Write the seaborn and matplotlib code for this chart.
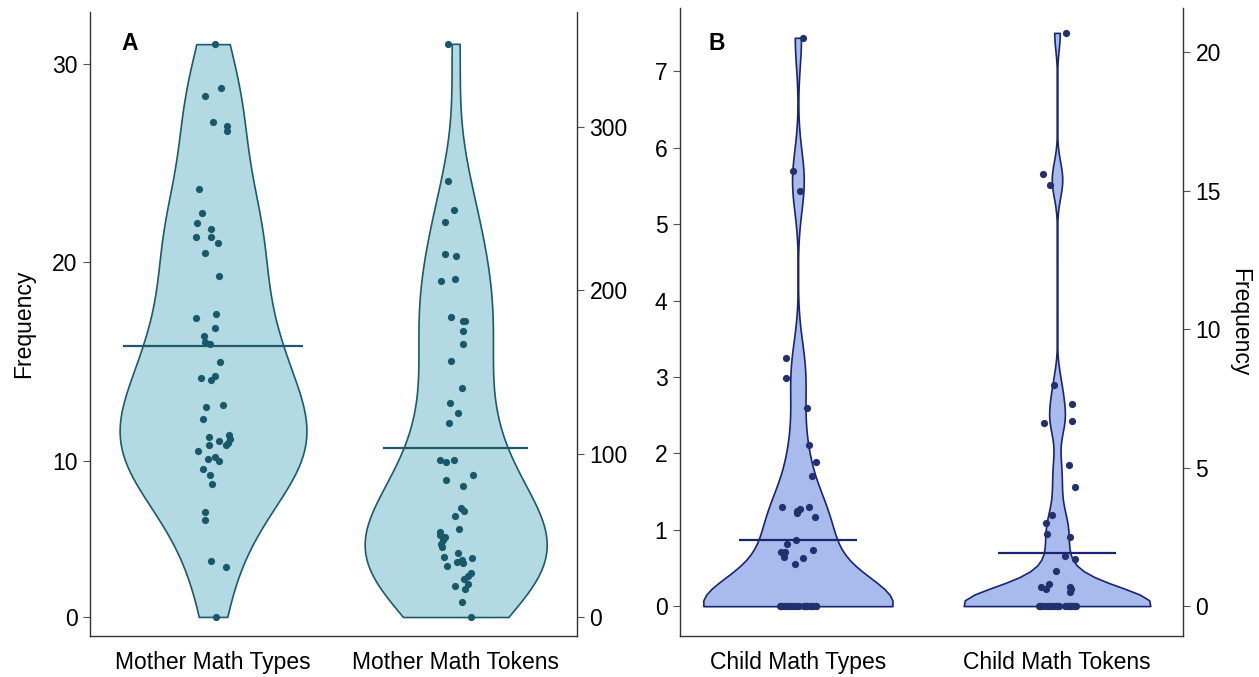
import numpy as np
import pandas as pd
import matplotlib
matplotlib.use("Agg")
import matplotlib.pyplot as plt
import seaborn as sns

# ---------------- data ----------------
categories_a = ["Mother Math Types", "Mother Math Tokens"]
categories_b = ["Child Math Types", "Child Math Tokens"]

mother_types = [31.0, 28.8, 28.4, 27.1, 26.9, 26.6, 23.7, 22.5, 22.0, 21.7,
                21.3, 21.3, 21.0, 20.5, 19.3, 17.4, 17.2, 16.7, 16.3, 15.9,
                16.0, 15.0, 14.1, 14.2, 14.3, 12.8, 12.7, 12.1, 11.2, 11.3,
                11.1, 11.0, 10.9, 10.8, 10.8, 10.5, 10.0, 10.2, 10.1, 9.5,
                9.1, 8.5, 6.7, 6.2, 3.6, 3.2, 0.0]

mother_tokens = [351, 267, 249, 242, 222, 221, 206, 207, 184, 181,
                 181, 175, 167, 157, 140, 131, 125, 119, 96, 96,
                 95, 87, 84, 80, 67, 65, 62, 54, 52, 50,
                 49, 47, 45, 43, 39, 37, 36, 35, 34, 33,
                 31, 27, 25, 23, 19, 20, 17, 9, 0]

child_types = [7.44, 5.70, 5.44, 3.25, 2.99, 2.60, 2.11, 1.89, 1.71, 1.27,
               1.30, 1.22, 1.17, 1.30, 1.25, 0.87, 0.81, 0.71, 0.71, 0.74,
               0.63, 0.64, 0.55,
               0, 0, 0, 0, 0, 0, 0, 0, 0, 0, 0, 0, 0, 0, 0,
               0, 0, 0, 0, 0, 0, 0, 0, 0, 0, 0, 0, 0, 0]

child_tokens = [20.7, 15.6, 15.2, 8.0, 7.3, 6.6, 6.7, 5.1, 4.3, 3.3,
                3.0, 2.6, 2.5, 1.7, 1.8, 1.25, 0.8, 0.7, 0.6, 0.7,
                0.6, 0.5,
                0, 0, 0, 0, 0, 0, 0, 0, 0, 0, 0, 0, 0, 0, 0,
                0, 0, 0, 0, 0, 0, 0, 0, 0, 0, 0, 0, 0, 0, 0]

mean_a = [15.8, 103.5]
mean_b = [0.87, 1.92]

ticks_a_left = [0, 10, 20, 30]
ticks_a_right = [0, 100, 200, 300]
ticks_b_left = [0, 1, 2, 3, 4, 5, 6, 7]
ticks_b_right = [0, 5, 10, 15, 20]

# ---------------- style ----------------
fill_a, edge_a, pt_a = "#B3DAE2", "#1D5A6C", "#19586A"
fill_b, edge_b, pt_b = "#A9BAEC", "#1A2570", "#23306F"
spine_col = "#333333"
FS = 16.5

sns.set_theme(style="ticks")
plt.rcParams["font.family"] = ["Liberation Sans", "DejaVu Sans"]
plt.rcParams["text.color"] = "black"
plt.rcParams["axes.labelcolor"] = "black"
plt.rcParams["xtick.color"] = "black"
plt.rcParams["ytick.color"] = "black"

# left axis of panel A has a compressed 0-10 segment in the reference
R = 0.786


def fwd(v):
    v = np.asarray(v, dtype=float)
    return np.where(v < 10, 10 - (10 - v) * R, v)


def inv(p):
    p = np.asarray(p, dtype=float)
    return np.where(p < 10, 10 - (10 - p) / R, p)


def nrd0_factor(values):
    x = np.asarray(values, float)
    sd = x.std(ddof=1)
    q75, q25 = np.percentile(x, [75, 25])
    iqr = q75 - q25
    lo = min(sd, iqr / 1.34) if iqr > 0 else sd
    return 0.9 * lo * len(x) ** -0.2 / sd


def draw(ax, cat, order, values, fill, edge, pt, width, half, mean, bw_vals=None):
    df = pd.DataFrame({"cat": [cat] * len(values), "val": values})
    bw = nrd0_factor(values if bw_vals is None else bw_vals)
    sns.violinplot(data=df, x="cat", y="val", order=order, ax=ax,
                   color=fill, linecolor=edge, linewidth=1.2, cut=0,
                   inner=None, width=width, density_norm="width",
                   bw_method=bw, saturation=1)
    sns.stripplot(data=df, x="cat", y="val", order=order, ax=ax,
                  color=pt, size=5.2, jitter=0.075, linewidth=0, zorder=3)
    i = order.index(cat)
    ax.hlines(mean, i - half, i + half, color=edge, lw=1.6, zorder=4)
    ax.set_xlabel("")
    ax.set_ylabel("")


def style_axes(ax, ax2):
    for a in (ax, ax2):
        a.spines["top"].set_visible(False)
        for s in a.spines.values():
            s.set_color(spine_col)
            s.set_linewidth(1.0)
    ax.spines["right"].set_visible(False)
    ax2.spines["left"].set_visible(False)
    ax2.spines["bottom"].set_visible(False)
    ax.tick_params(axis="y", labelsize=FS, length=5, width=0.8, color="#555555",
                   labelcolor="black", pad=4)
    ax2.tick_params(axis="y", labelsize=FS, length=5, width=0.8, color="#555555",
                    labelcolor="black", pad=4)
    ax.tick_params(axis="x", labelsize=FS, length=0, pad=11, labelcolor="black")


np.random.seed(3)
fig = plt.figure(figsize=(12.59, 6.77), dpi=100)

# ---------------- Panel A ----------------
axA = fig.add_axes([0.0715, 0.0606, 0.3868, 0.9217])
axA.set_yscale("function", functions=(fwd, inv))
draw(axA, categories_a[0], categories_a, mother_types, fill_a, edge_a, pt_a,
     0.77, 0.37, mean_a[0], bw_vals=fwd(mother_types))
axA2 = axA.twinx()
draw(axA2, categories_a[1], categories_a, mother_tokens, fill_a, edge_a, pt_a,
     0.75, 0.30, mean_a[1])
axA.set_xlim(-0.507, 1.5)
axA.set_ylim(-1.22, 32.62)
axA2.set_ylim(-11.6, 370.5)
axA.set_yticks(ticks_a_left)
axA.set_yticklabels([str(t) for t in ticks_a_left])
axA.yaxis.set_minor_locator(matplotlib.ticker.NullLocator())
axA2.set_yticks(ticks_a_right)
axA.set_xticks([0, 1])
axA.set_xticklabels(categories_a)
style_axes(axA, axA2)
axA.set_ylabel("Frequency", fontsize=FS, labelpad=12, color="black")
axA.text(0.082, 0.949, "A", transform=axA.transAxes, fontsize=FS,
         fontweight="bold", ha="center", va="center", color="black")

# ---------------- Panel B ----------------
axB = fig.add_axes([0.5401, 0.0606, 0.3995, 0.9276])
draw(axB, categories_b[0], categories_b, child_types, fill_b, edge_b, pt_b,
     0.73, 0.228, mean_b[0])
axB2 = axB.twinx()
draw(axB2, categories_b[1], categories_b, child_tokens, fill_b, edge_b, pt_b,
     0.72, 0.226, mean_b[1])
axB.set_xlim(-0.455, 1.486)
axB.set_ylim(-0.39, 7.83)
axB2.set_ylim(-1.08, 21.6)
axB.set_yticks(ticks_b_left)
axB2.set_yticks(ticks_b_right)
axB.set_xticks([0, 1])
axB.set_xticklabels(categories_b)
style_axes(axB, axB2)
axB2.set_ylabel("Frequency", fontsize=FS, rotation=270, labelpad=22, color="black")
axB.text(0.074, 0.943, "B", transform=axB.transAxes, fontsize=FS,
         fontweight="bold", ha="center", va="center", color="black")

fig.savefig("out.png", dpi=100)
